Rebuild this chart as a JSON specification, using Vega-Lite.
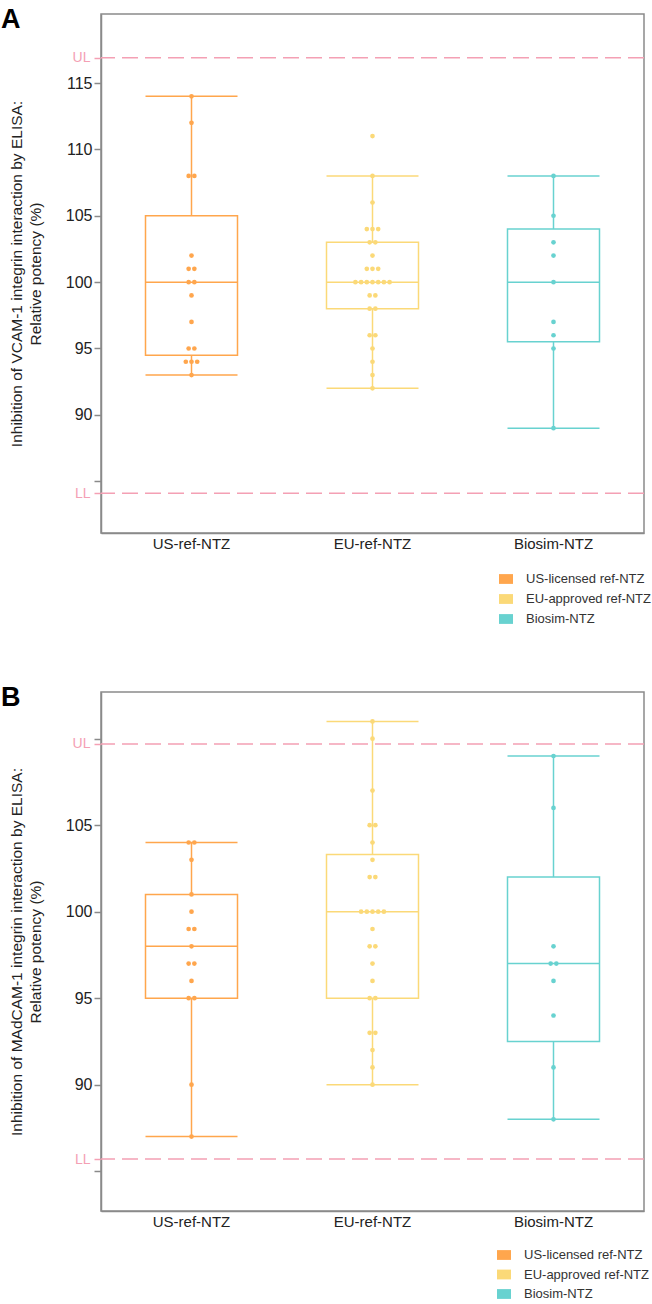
{
  "$schema": "https://vega.github.io/schema/vega-lite/v6.json",
  "padding": {"left": 0, "top": 5, "right": 0, "bottom": 0},
  "background": "white",
  "spacing": 56,
  "config": {
    "font": "Liberation Sans",
    "view": {"stroke": "#8a8a8a", "strokeWidth": 1.5},
    "axisX": {"domainColor": "#8a8a8a", "domainWidth": 1.5, "ticks": false, "labelFontSize": 15, "labelColor": "#222", "labelPadding": 3, "labelAngle": 0, "grid": false},
    "axisY": {"domainColor": "#8a8a8a", "domainWidth": 1.5, "tickWidth": 1.5, "tickSize": 7, "labelColor": "#222", "labelPadding": 2, "grid": false, "labelOverlap": false, "titleFontSize": 15.5, "titleFontWeight": "normal", "titleColor": "#222", "titleLineHeight": 19, "titlePadding": 22},
    "title": {"fontSize": 27, "fontWeight": "bold", "anchor": "start", "frame": "group", "color": "#000", "offset": 0}
  },
  "resolve": {"scale": {"x": "independent", "y": "independent", "color": "independent", "stroke": "independent", "fill": "independent"}, "legend": {"color": "independent"}},
  "datasets": {
    "groups": [
      {"group": "US-ref-NTZ", "product": "US-licensed ref-NTZ"},
      {"group": "EU-ref-NTZ", "product": "EU-approved ref-NTZ"},
      {"group": "Biosim-NTZ", "product": "Biosim-NTZ"}
    ],
    "boxes": [
      {"panel": "A", "group": "US-ref-NTZ", "min": 93, "q1": 94.5, "median": 100, "q3": 105, "max": 114},
      {"panel": "A", "group": "EU-ref-NTZ", "min": 92, "q1": 98, "median": 100, "q3": 103, "max": 108},
      {"panel": "A", "group": "Biosim-NTZ", "min": 89, "q1": 95.5, "median": 100, "q3": 104, "max": 108},
      {"panel": "B", "group": "US-ref-NTZ", "min": 87, "q1": 95, "median": 98, "q3": 101, "max": 104},
      {"panel": "B", "group": "EU-ref-NTZ", "min": 90, "q1": 95, "median": 100, "q3": 103.3, "max": 111},
      {"panel": "B", "group": "Biosim-NTZ", "min": 88, "q1": 92.5, "median": 97, "q3": 102, "max": 109}
    ],
    "limits": [
      {"panel": "A", "limit": "UL", "value": 116.9},
      {"panel": "A", "limit": "LL", "value": 84.1},
      {"panel": "B", "limit": "UL", "value": 109.7},
      {"panel": "B", "limit": "LL", "value": 85.7}
    ],
    "pts": [
      {"panel": "A", "group": "US-ref-NTZ", "value": 114},
      {"panel": "A", "group": "US-ref-NTZ", "value": 112},
      {"panel": "A", "group": "US-ref-NTZ", "value": 108},
      {"panel": "A", "group": "US-ref-NTZ", "value": 108},
      {"panel": "A", "group": "US-ref-NTZ", "value": 102},
      {"panel": "A", "group": "US-ref-NTZ", "value": 101},
      {"panel": "A", "group": "US-ref-NTZ", "value": 101},
      {"panel": "A", "group": "US-ref-NTZ", "value": 100},
      {"panel": "A", "group": "US-ref-NTZ", "value": 100},
      {"panel": "A", "group": "US-ref-NTZ", "value": 99},
      {"panel": "A", "group": "US-ref-NTZ", "value": 97},
      {"panel": "A", "group": "US-ref-NTZ", "value": 95},
      {"panel": "A", "group": "US-ref-NTZ", "value": 95},
      {"panel": "A", "group": "US-ref-NTZ", "value": 94},
      {"panel": "A", "group": "US-ref-NTZ", "value": 94},
      {"panel": "A", "group": "US-ref-NTZ", "value": 94},
      {"panel": "A", "group": "US-ref-NTZ", "value": 93},
      {"panel": "A", "group": "EU-ref-NTZ", "value": 111},
      {"panel": "A", "group": "EU-ref-NTZ", "value": 108},
      {"panel": "A", "group": "EU-ref-NTZ", "value": 106},
      {"panel": "A", "group": "EU-ref-NTZ", "value": 104},
      {"panel": "A", "group": "EU-ref-NTZ", "value": 104},
      {"panel": "A", "group": "EU-ref-NTZ", "value": 104},
      {"panel": "A", "group": "EU-ref-NTZ", "value": 103},
      {"panel": "A", "group": "EU-ref-NTZ", "value": 103},
      {"panel": "A", "group": "EU-ref-NTZ", "value": 102},
      {"panel": "A", "group": "EU-ref-NTZ", "value": 101},
      {"panel": "A", "group": "EU-ref-NTZ", "value": 101},
      {"panel": "A", "group": "EU-ref-NTZ", "value": 101},
      {"panel": "A", "group": "EU-ref-NTZ", "value": 100},
      {"panel": "A", "group": "EU-ref-NTZ", "value": 100},
      {"panel": "A", "group": "EU-ref-NTZ", "value": 100},
      {"panel": "A", "group": "EU-ref-NTZ", "value": 100},
      {"panel": "A", "group": "EU-ref-NTZ", "value": 100},
      {"panel": "A", "group": "EU-ref-NTZ", "value": 100},
      {"panel": "A", "group": "EU-ref-NTZ", "value": 100},
      {"panel": "A", "group": "EU-ref-NTZ", "value": 99},
      {"panel": "A", "group": "EU-ref-NTZ", "value": 99},
      {"panel": "A", "group": "EU-ref-NTZ", "value": 98},
      {"panel": "A", "group": "EU-ref-NTZ", "value": 98},
      {"panel": "A", "group": "EU-ref-NTZ", "value": 96},
      {"panel": "A", "group": "EU-ref-NTZ", "value": 96},
      {"panel": "A", "group": "EU-ref-NTZ", "value": 95},
      {"panel": "A", "group": "EU-ref-NTZ", "value": 94},
      {"panel": "A", "group": "EU-ref-NTZ", "value": 93},
      {"panel": "A", "group": "EU-ref-NTZ", "value": 92},
      {"panel": "A", "group": "Biosim-NTZ", "value": 108},
      {"panel": "A", "group": "Biosim-NTZ", "value": 105},
      {"panel": "A", "group": "Biosim-NTZ", "value": 103},
      {"panel": "A", "group": "Biosim-NTZ", "value": 102},
      {"panel": "A", "group": "Biosim-NTZ", "value": 100},
      {"panel": "A", "group": "Biosim-NTZ", "value": 97},
      {"panel": "A", "group": "Biosim-NTZ", "value": 96},
      {"panel": "A", "group": "Biosim-NTZ", "value": 95},
      {"panel": "A", "group": "Biosim-NTZ", "value": 89},
      {"panel": "B", "group": "US-ref-NTZ", "value": 104},
      {"panel": "B", "group": "US-ref-NTZ", "value": 104},
      {"panel": "B", "group": "US-ref-NTZ", "value": 103},
      {"panel": "B", "group": "US-ref-NTZ", "value": 101},
      {"panel": "B", "group": "US-ref-NTZ", "value": 100},
      {"panel": "B", "group": "US-ref-NTZ", "value": 99},
      {"panel": "B", "group": "US-ref-NTZ", "value": 99},
      {"panel": "B", "group": "US-ref-NTZ", "value": 98},
      {"panel": "B", "group": "US-ref-NTZ", "value": 97},
      {"panel": "B", "group": "US-ref-NTZ", "value": 97},
      {"panel": "B", "group": "US-ref-NTZ", "value": 96},
      {"panel": "B", "group": "US-ref-NTZ", "value": 95},
      {"panel": "B", "group": "US-ref-NTZ", "value": 95},
      {"panel": "B", "group": "US-ref-NTZ", "value": 90},
      {"panel": "B", "group": "US-ref-NTZ", "value": 87},
      {"panel": "B", "group": "EU-ref-NTZ", "value": 111},
      {"panel": "B", "group": "EU-ref-NTZ", "value": 110},
      {"panel": "B", "group": "EU-ref-NTZ", "value": 107},
      {"panel": "B", "group": "EU-ref-NTZ", "value": 105},
      {"panel": "B", "group": "EU-ref-NTZ", "value": 105},
      {"panel": "B", "group": "EU-ref-NTZ", "value": 104},
      {"panel": "B", "group": "EU-ref-NTZ", "value": 103},
      {"panel": "B", "group": "EU-ref-NTZ", "value": 102},
      {"panel": "B", "group": "EU-ref-NTZ", "value": 102},
      {"panel": "B", "group": "EU-ref-NTZ", "value": 100},
      {"panel": "B", "group": "EU-ref-NTZ", "value": 100},
      {"panel": "B", "group": "EU-ref-NTZ", "value": 100},
      {"panel": "B", "group": "EU-ref-NTZ", "value": 100},
      {"panel": "B", "group": "EU-ref-NTZ", "value": 100},
      {"panel": "B", "group": "EU-ref-NTZ", "value": 99},
      {"panel": "B", "group": "EU-ref-NTZ", "value": 98},
      {"panel": "B", "group": "EU-ref-NTZ", "value": 98},
      {"panel": "B", "group": "EU-ref-NTZ", "value": 97},
      {"panel": "B", "group": "EU-ref-NTZ", "value": 96},
      {"panel": "B", "group": "EU-ref-NTZ", "value": 95},
      {"panel": "B", "group": "EU-ref-NTZ", "value": 95},
      {"panel": "B", "group": "EU-ref-NTZ", "value": 93},
      {"panel": "B", "group": "EU-ref-NTZ", "value": 93},
      {"panel": "B", "group": "EU-ref-NTZ", "value": 92},
      {"panel": "B", "group": "EU-ref-NTZ", "value": 91},
      {"panel": "B", "group": "EU-ref-NTZ", "value": 90},
      {"panel": "B", "group": "Biosim-NTZ", "value": 109},
      {"panel": "B", "group": "Biosim-NTZ", "value": 106},
      {"panel": "B", "group": "Biosim-NTZ", "value": 98},
      {"panel": "B", "group": "Biosim-NTZ", "value": 97},
      {"panel": "B", "group": "Biosim-NTZ", "value": 97},
      {"panel": "B", "group": "Biosim-NTZ", "value": 96},
      {"panel": "B", "group": "Biosim-NTZ", "value": 94},
      {"panel": "B", "group": "Biosim-NTZ", "value": 91},
      {"panel": "B", "group": "Biosim-NTZ", "value": 88}
    ]
  },
  "vconcat": [
    {
      "width": 543,
      "height": 519,
      "title": {"text": "A", "dx": -100, "dy": 24},
      "layer": [
        {
          "data": {"name": "boxes"},
          "transform": [{"filter": "datum.panel === 'A'"}],
          "mark": {"type": "rule", "strokeWidth": 1.5},
          "encoding": {
            "x": {"field": "group", "type": "nominal", "title": null, "scale": {"type": "band", "domain": ["US-ref-NTZ", "EU-ref-NTZ", "Biosim-NTZ"], "paddingInner": 0, "paddingOuter": 0}},
            "y": {"field": "q3", "type": "quantitative", "title": ["Inhibition of VCAM-1 integrin interaction by ELISA:", "Relative potency (%)"],
              "scale": {"domain": [81.1, 120.2], "nice": false, "zero": false},
              "axis": {
                "values": [84.1, 85, 90, 95, 100, 105, 110, 115, 116.9],
                "labelExpr": "datum.value % 5 != 0 ? (datum.value > 100 ? 'UL' : 'LL') : (datum.value == 85 ? '' : datum.label)",
                "labelColor": {"condition": {"test": "datum.value % 5 != 0", "value": "#F4A0B4"}, "value": "#222"},
                "tickColor": {"condition": {"test": "datum.value % 5 != 0", "value": "#F4A0B4"}, "value": "#8a8a8a"},
                "labelFontSize": {"condition": {"test": "datum.value % 5 != 0", "value": 14}, "value": 16},
                "labelPadding": {"condition": {"test": "datum.value % 5 != 0", "value": 4}, "value": 2}
              }},
            "y2": {"field": "max"},
            "stroke": {"field": "group", "type": "nominal", "legend": null, "scale": {"domain": ["US-ref-NTZ", "EU-ref-NTZ", "Biosim-NTZ"], "range": ["#FFA64D", "#FBD978", "#68D2D0"]}}
          }
        },
        {
          "data": {"name": "boxes"},
          "transform": [{"filter": "datum.panel === 'A'"}],
          "mark": {"type": "rule", "strokeWidth": 1.5},
          "encoding": {
            "x": {"field": "group", "type": "nominal"},
            "y": {"field": "min", "type": "quantitative"},
            "y2": {"field": "q1"},
            "stroke": {"field": "group", "type": "nominal", "legend": null}
          }
        },
        {
          "data": {"name": "boxes"},
          "transform": [{"filter": "datum.panel === 'A'"}],
          "mark": {"type": "bar", "size": 92, "strokeWidth": 1.5, "fillOpacity": 0, "fill": "white"},
          "encoding": {
            "x": {"field": "group", "type": "nominal"},
            "y": {"field": "q1", "type": "quantitative"},
            "y2": {"field": "q3"},
            "stroke": {"field": "group", "type": "nominal", "legend": null}
          }
        },
        {
          "data": {"name": "boxes"},
          "transform": [{"filter": "datum.panel === 'A'"}, {"fold": ["min", "median", "max"], "as": ["stat", "level"]}],
          "mark": {"type": "tick", "size": 92, "thickness": 1.5, "opacity": 1},
          "encoding": {
            "x": {"field": "group", "type": "nominal"},
            "y": {"field": "level", "type": "quantitative"},
            "fill": {"field": "group", "type": "nominal", "legend": null, "scale": {"domain": ["US-ref-NTZ", "EU-ref-NTZ", "Biosim-NTZ"], "range": ["#FFA64D", "#FBD978", "#68D2D0"]}}
          }
        },
        {
          "data": {"name": "limits"},
          "transform": [{"filter": "datum.panel === 'A'"}],
          "mark": {"type": "rule", "stroke": "#F4A0B4", "strokeWidth": 1.5, "strokeDash": [16, 7]},
          "encoding": {
            "y": {"field": "value", "type": "quantitative"}
          }
        },
        {
          "data": {"name": "pts"},
          "transform": [
            {"filter": "datum.panel === 'A'"},
            {"lookup": "group", "from": {"data": {"name": "groups"}, "key": "group", "fields": ["product"]}},
            {"window": [{"op": "row_number", "as": "rk"}, {"op": "count", "as": "cnt"}], "groupby": ["group", "value"], "frame": [null, null]},
            {"calculate": "datum.rk - (datum.cnt + 1) / 2", "as": "slot"}
          ],
          "mark": {"type": "point", "filled": true, "size": 22, "opacity": 1},
          "encoding": {
            "x": {"field": "group", "type": "nominal"},
            "xOffset": {"field": "slot", "type": "quantitative", "scale": {"domain": [-3, 3], "range": [73.4, 107.6]}},
            "y": {"field": "value", "type": "quantitative"},
            "color": {"field": "product", "type": "nominal",
              "scale": {"domain": ["US-licensed ref-NTZ", "EU-approved ref-NTZ", "Biosim-NTZ"], "range": ["#FFA64D", "#FBD978", "#68D2D0"]},
              "legend": {"title": null, "orient": "none", "legendX": 398, "legendY": 558, "padding": 0, "symbolType": "M-1,-0.7L1,-0.7L1,0.7L-1,0.7Z", "symbolSize": 196, "symbolStrokeWidth": 0, "symbolOpacity": 1, "labelFontSize": 13, "labelColor": "#333", "labelOffset": 13, "rowPadding": 6}}
          }
        }
      ]
    },
    {
      "width": 543,
      "height": 519,
      "title": {"text": "B", "dx": -100, "dy": 24},
      "layer": [
        {
          "data": {"name": "boxes"},
          "transform": [{"filter": "datum.panel === 'B'"}],
          "mark": {"type": "rule", "strokeWidth": 1.5},
          "encoding": {
            "x": {"field": "group", "type": "nominal", "title": null, "scale": {"type": "band", "domain": ["US-ref-NTZ", "EU-ref-NTZ", "Biosim-NTZ"], "paddingInner": 0, "paddingOuter": 0}},
            "y": {"field": "q3", "type": "quantitative", "title": ["Inhibition of MAdCAM-1 integrin interaction by ELISA:", "Relative potency (%)"],
              "scale": {"domain": [82.7, 112.7], "nice": false, "zero": false},
              "axis": {
                "values": [85, 85.7, 90, 95, 100, 105, 109.7, 110],
                "labelExpr": "datum.value % 5 != 0 ? (datum.value > 100 ? 'UL' : 'LL') : (datum.value == 85 || datum.value == 110 ? '' : datum.label)",
                "labelColor": {"condition": {"test": "datum.value % 5 != 0", "value": "#F4A0B4"}, "value": "#222"},
                "tickColor": {"condition": {"test": "datum.value % 5 != 0", "value": "#F4A0B4"}, "value": "#8a8a8a"},
                "labelFontSize": {"condition": {"test": "datum.value % 5 != 0", "value": 14}, "value": 16},
                "labelPadding": {"condition": {"test": "datum.value % 5 != 0", "value": 4}, "value": 2}
              }},
            "y2": {"field": "max"},
            "stroke": {"field": "group", "type": "nominal", "legend": null, "scale": {"domain": ["US-ref-NTZ", "EU-ref-NTZ", "Biosim-NTZ"], "range": ["#FFA64D", "#FBD978", "#68D2D0"]}}
          }
        },
        {
          "data": {"name": "boxes"},
          "transform": [{"filter": "datum.panel === 'B'"}],
          "mark": {"type": "rule", "strokeWidth": 1.5},
          "encoding": {
            "x": {"field": "group", "type": "nominal"},
            "y": {"field": "min", "type": "quantitative"},
            "y2": {"field": "q1"},
            "stroke": {"field": "group", "type": "nominal", "legend": null}
          }
        },
        {
          "data": {"name": "boxes"},
          "transform": [{"filter": "datum.panel === 'B'"}],
          "mark": {"type": "bar", "size": 92, "strokeWidth": 1.5, "fillOpacity": 0, "fill": "white"},
          "encoding": {
            "x": {"field": "group", "type": "nominal"},
            "y": {"field": "q1", "type": "quantitative"},
            "y2": {"field": "q3"},
            "stroke": {"field": "group", "type": "nominal", "legend": null}
          }
        },
        {
          "data": {"name": "boxes"},
          "transform": [{"filter": "datum.panel === 'B'"}, {"fold": ["min", "median", "max"], "as": ["stat", "level"]}],
          "mark": {"type": "tick", "size": 92, "thickness": 1.5, "opacity": 1},
          "encoding": {
            "x": {"field": "group", "type": "nominal"},
            "y": {"field": "level", "type": "quantitative"},
            "fill": {"field": "group", "type": "nominal", "legend": null, "scale": {"domain": ["US-ref-NTZ", "EU-ref-NTZ", "Biosim-NTZ"], "range": ["#FFA64D", "#FBD978", "#68D2D0"]}}
          }
        },
        {
          "data": {"name": "limits"},
          "transform": [{"filter": "datum.panel === 'B'"}],
          "mark": {"type": "rule", "stroke": "#F4A0B4", "strokeWidth": 1.5, "strokeDash": [16, 7]},
          "encoding": {
            "y": {"field": "value", "type": "quantitative"}
          }
        },
        {
          "data": {"name": "pts"},
          "transform": [
            {"filter": "datum.panel === 'B'"},
            {"lookup": "group", "from": {"data": {"name": "groups"}, "key": "group", "fields": ["product"]}},
            {"window": [{"op": "row_number", "as": "rk"}, {"op": "count", "as": "cnt"}], "groupby": ["group", "value"], "frame": [null, null]},
            {"calculate": "datum.rk - (datum.cnt + 1) / 2", "as": "slot"}
          ],
          "mark": {"type": "point", "filled": true, "size": 22, "opacity": 1},
          "encoding": {
            "x": {"field": "group", "type": "nominal"},
            "xOffset": {"field": "slot", "type": "quantitative", "scale": {"domain": [-3, 3], "range": [73.4, 107.6]}},
            "y": {"field": "value", "type": "quantitative"},
            "color": {"field": "product", "type": "nominal",
              "scale": {"domain": ["US-licensed ref-NTZ", "EU-approved ref-NTZ", "Biosim-NTZ"], "range": ["#FFA64D", "#FBD978", "#68D2D0"]},
              "legend": {"title": null, "orient": "none", "legendX": 396, "legendY": 556, "padding": 0, "symbolType": "M-1,-0.7L1,-0.7L1,0.7L-1,0.7Z", "symbolSize": 196, "symbolStrokeWidth": 0, "symbolOpacity": 1, "labelFontSize": 13, "labelColor": "#333", "labelOffset": 13, "rowPadding": 5.5}}
          }
        }
      ]
    }
  ]
}
